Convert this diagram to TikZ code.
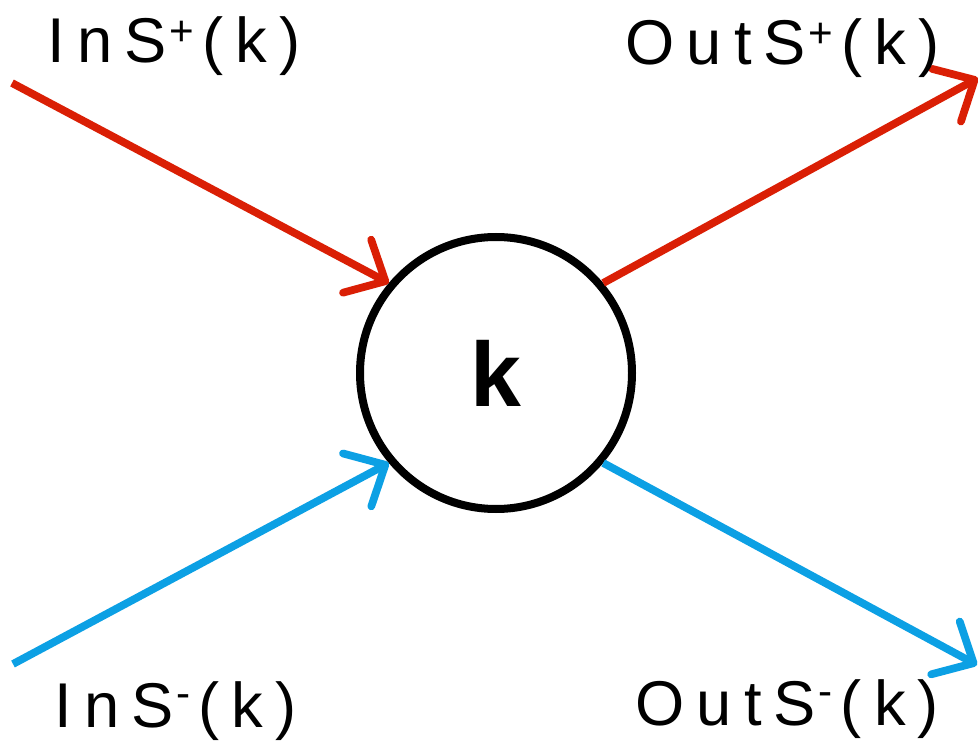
\documentclass[tikz,border=0pt]{standalone}
\usepackage{fontspec}
\setmainfont{Liberation Sans}
\newfontfamily\lblfont[LetterSpace=19]{Liberation Sans}
\usetikzlibrary{arrows.meta}
\definecolor{plusred}{RGB}{218,31,5}
\definecolor{minusblue}{RGB}{12,160,228}
\newcommand{\supplus}{\kern0.03cm\raisebox{0.17cm}{\fontsize{12}{12}\selectfont +}\kern0.08cm}
\newcommand{\supminus}{\kern0.03cm\raisebox{0.2cm}{\fontsize{12}{12}\selectfont -}\kern0.08cm}

\begin{document}
\begin{tikzpicture}[
  vertex/.style={circle, draw, line width=0.08cm, minimum size=2.72cm, inner sep=0pt,
                 font=\bfseries\fontsize{26}{26}\selectfont},
  lbl/.style={anchor=base west, inner sep=0pt, font=\lblfont\fontsize{18}{18}\selectfont},
  flow/.style={line width=2.2pt, -{Straight Barb[length=0.32cm, width=0.6cm, round]}}
]
  \useasboundingbox (0,0) rectangle (9.78,7.44);
  \node[vertex] (v) at (4.96,3.71) {k};
  \coordinate (inplus) at (0.12,6.61);
  \coordinate (outplus) at (9.78,6.66);
  \coordinate (inminus) at (0.13,0.80);
  \coordinate (outminus) at (9.77,0.79);
  \draw[flow, plusred] (inplus) -- (v.140);
  \draw[flow, plusred] (v.40) -- (outplus);
  \draw[flow, minusblue] (inminus) -- (v.220);
  \draw[flow, minusblue] (v.320) -- (outminus);
  \node[lbl] (inplusl) at (0.47,6.81) {InS\supplus(k)};
  \node[lbl] (outplusl) at (6.25,6.79) {OutS\supplus(k)};
  \node[lbl] (inminusl) at (0.54,0.17) {InS\supminus(k)};
  \node[lbl] (outminusl) at (6.35,0.19) {OutS\supminus(k)};
\end{tikzpicture}
\end{document}
